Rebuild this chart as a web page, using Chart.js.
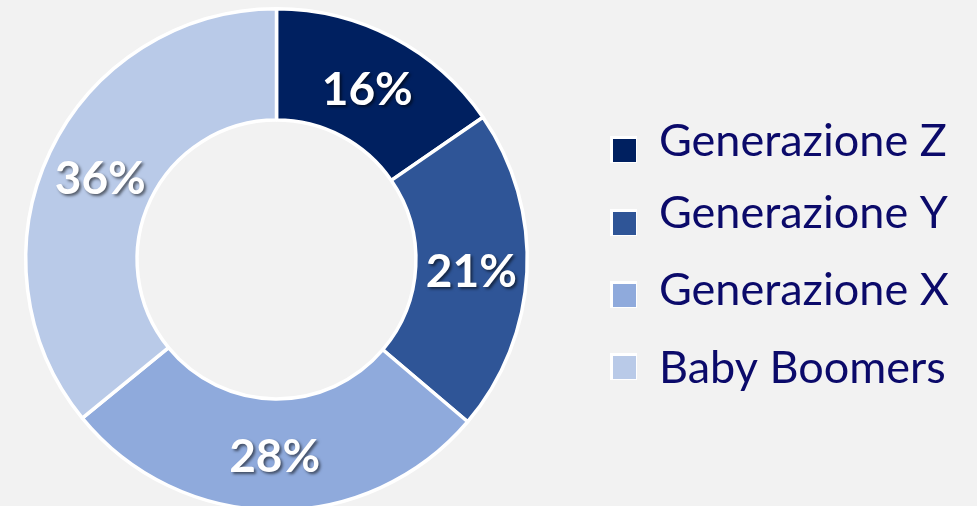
<!DOCTYPE html>
<html>
<head>
<meta charset="utf-8">
<script src="https://cdn.jsdelivr.net/npm/chart.js@4.4.1/dist/chart.umd.min.js"></script>
<style>
  html, body { margin: 0; padding: 0; background: #f2f2f2; overflow: hidden; }
  #wrap { position: absolute; left: 0; top: 0; width: 977px; height: 512px; }
</style>
</head>
<body>
<div id="wrap"><canvas id="c" width="977" height="512"></canvas></div>
<script>
const categories = ["Generazione Z", "Generazione Y", "Generazione X", "Baby Boomers"];
const shares = [15.4, 20.8, 27.9, 35.9];
const shareLabels = ["16%", "21%", "28%", "36%"];
const colors = ["#002060", "#2f5597", "#8faadc", "#b9cae8"];

const FONT = "Lato, 'Noto Sans', sans-serif";

const sliceLabels = {
  id: 'sliceLabels',
  afterDatasetsDraw(chart) {
    const ctx = chart.ctx;
    const meta = chart.getDatasetMeta(0);
    ctx.save();
    ctx.font = "bold 46px " + FONT;
    ctx.textAlign = 'center';
    ctx.textBaseline = 'middle';
    ctx.fillStyle = '#ffffff';
    ctx.shadowColor = 'rgba(0,0,0,0.55)';
    ctx.shadowOffsetX = 2;
    ctx.shadowOffsetY = 2;
    ctx.shadowBlur = 3;
    meta.data.forEach((arc, i) => {
      const p = arc.tooltipPosition();
      ctx.fillText(shareLabels[i], p.x, p.y + 3);
    });
    ctx.restore();
  }
};

const legendRows = [
  { box: 139, base: 156 },
  { box: 212, base: 228 },
  { box: 284, base: 305 },
  { box: 356, base: 383 }
];
const sideLegend = {
  id: 'sideLegend',
  afterDraw(chart) {
    const ctx = chart.ctx;
    ctx.save();
    ctx.font = "45px " + FONT;
    ctx.textAlign = 'left';
    ctx.textBaseline = 'alphabetic';
    categories.forEach((name, i) => {
      const r = legendRows[i];
      ctx.fillStyle = '#ffffff';
      ctx.fillRect(610, r.box - 3, 27, 27);
      ctx.fillStyle = colors[i];
      ctx.fillRect(613, r.box, 23, 23);
      ctx.fillStyle = '#0b0a6a';
      ctx.fillText(name, 659, r.base);
    });
    ctx.restore();
  }
};

new Chart(document.getElementById('c'), {
  type: 'doughnut',
  data: {
    labels: categories,
    datasets: [{
      data: shares,
      backgroundColor: colors,
      borderColor: '#ffffff',
      borderWidth: 3.5,
      hoverOffset: 0,
      offset: 0
    }]
  },
  options: {
    responsive: false,
    animation: false,
    cutout: '55.6%',
    layout: { padding: { left: 24, top: 7, right: 448, bottom: 0 } },
    plugins: {
      legend: { display: false },
      tooltip: { enabled: false }
    },
    events: []
  },
  plugins: [sliceLabels, sideLegend]
});
</script>
</body>
</html>
